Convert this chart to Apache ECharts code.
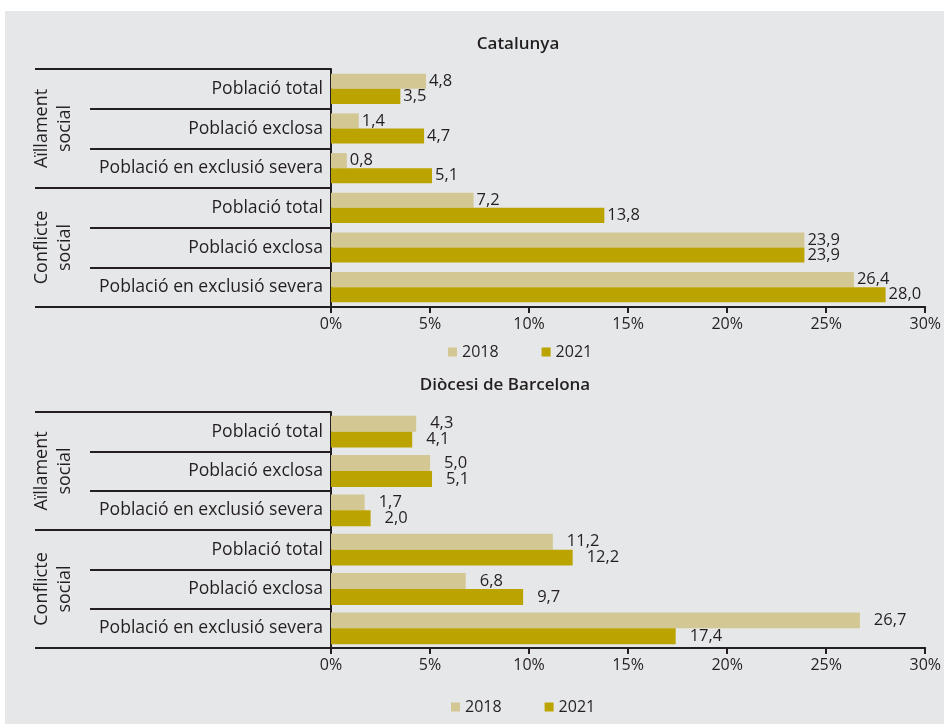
<!DOCTYPE html>
<html><head><meta charset="utf-8">
<script src="https://cdn.jsdelivr.net/npm/echarts@6/dist/echarts.min.js"></script>
<style>html,body{margin:0;padding:0;background:#fff;} #c{position:absolute;left:5px;top:11px;width:939px;height:713px;}</style>
</head><body><div id="c"></div>
<script>
const categories = ['Població total','Població exclosa','Població en exclusió severa','Població total','Població exclosa','Població en exclusió severa'];
const groups = ['Aïllament\nsocial','Conflicte\nsocial'];
const years = ['2018','2021'];
const titles = ['Catalunya','Diòcesi de Barcelona'];
const catalunya2018 = [4.8,1.4,0.8,7.2,23.9,26.4];
const catalunya2021 = [3.5,4.7,5.1,13.8,23.9,28.0];
const barcelona2018 = [4.3,5.0,1.7,11.2,6.8,26.7];
const barcelona2021 = [4.1,5.1,2.0,12.2,9.7,17.4];

const FONT = 'Open Sans';
const INK = '#231f20';
const C18 = '#d3c794';
const C21 = '#bca400';

const grids = [
  {left:326, right:16, top:58, height:238},
  {left:326, right:16, top:401, height:236}
];
const fmt = v => v.toFixed(1).replace('.', ',');

function xAxis(gi){
  return {type:'value', gridIndex:gi, min:0, max:30, interval:5,
    axisLine:{show:true, lineStyle:{color:INK, width:2}},
    axisTick:{show:true, length:6, lineStyle:{color:INK, width:2}},
    axisLabel:{formatter:'{value}%', fontFamily:FONT, fontSize:16, color:INK, margin:9},
    splitLine:{show:false}};
}
function yAxisMain(gi){
  return {type:'category', gridIndex:gi, inverse:true, data:categories.map((c,i)=>i+'|'+c),
    axisLine:{show:true, lineStyle:{color:INK, width:2}},
    axisTick:{show:true, length:241, alignWithLabel:false, lineStyle:{color:INK, width:2}},
    axisLabel:{formatter:v=>v.split('|')[1], fontFamily:FONT, fontSize:17.6, color:INK, margin:8}};
}
function yAxisGroup(gi){
  return {type:'category', gridIndex:gi, inverse:true, data:groups, position:'left', offset:241,
    axisLine:{show:false},
    axisTick:{show:true, length:55, alignWithLabel:false, lineStyle:{color:INK, width:2}},
    axisLabel:{rotate:90, fontFamily:FONT, fontSize:18, lineHeight:23, color:INK, margin:14, align:'center'}};
}
function bars(name, data, gi, color, gap, dist){
  return {type:'bar', name, data, xAxisIndex:gi, yAxisIndex:gi*2, barGap:'0%', barCategoryGap:gap,
    itemStyle:{color}, label:{show:true, position:'right', distance:dist, formatter:p=>fmt(p.value),
      fontFamily:FONT, fontSize:16.5, color:INK}};
}

const chart = echarts.init(document.getElementById('c'));
chart.setOption({
  backgroundColor:'#e6e7e9',
  animation:false,
  title:[
    {text:titles[0], left:508, top:20, textAlign:'center', textStyle:{fontFamily:FONT, fontWeight:600, fontSize:17, color:INK}},
    {text:titles[1], left:495, top:361, textAlign:'center', textStyle:{fontFamily:FONT, fontWeight:600, fontSize:17, color:INK}}
  ],
  legend:[
    {data:years, left:438, top:328, icon:'rect', itemWidth:9, itemHeight:9, itemGap:43, textStyle:{fontFamily:FONT, fontSize:16, color:INK}},
    {data:years, left:441, top:683, icon:'rect', itemWidth:9, itemHeight:9, itemGap:43, textStyle:{fontFamily:FONT, fontSize:16, color:INK}}
  ],
  grid:grids,
  xAxis:[xAxis(0), xAxis(1)],
  yAxis:[yAxisMain(0), yAxisGroup(0), yAxisMain(1), yAxisGroup(1)],
  series:[
    bars(years[0], catalunya2018, 0, C18, '24%', 3),
    bars(years[1], catalunya2021, 0, C21, '24%', 3),
    bars(years[0], barcelona2018, 1, C18, '19%', 14),
    bars(years[1], barcelona2021, 1, C21, '19%', 14)
  ]
});
</script></body></html>
